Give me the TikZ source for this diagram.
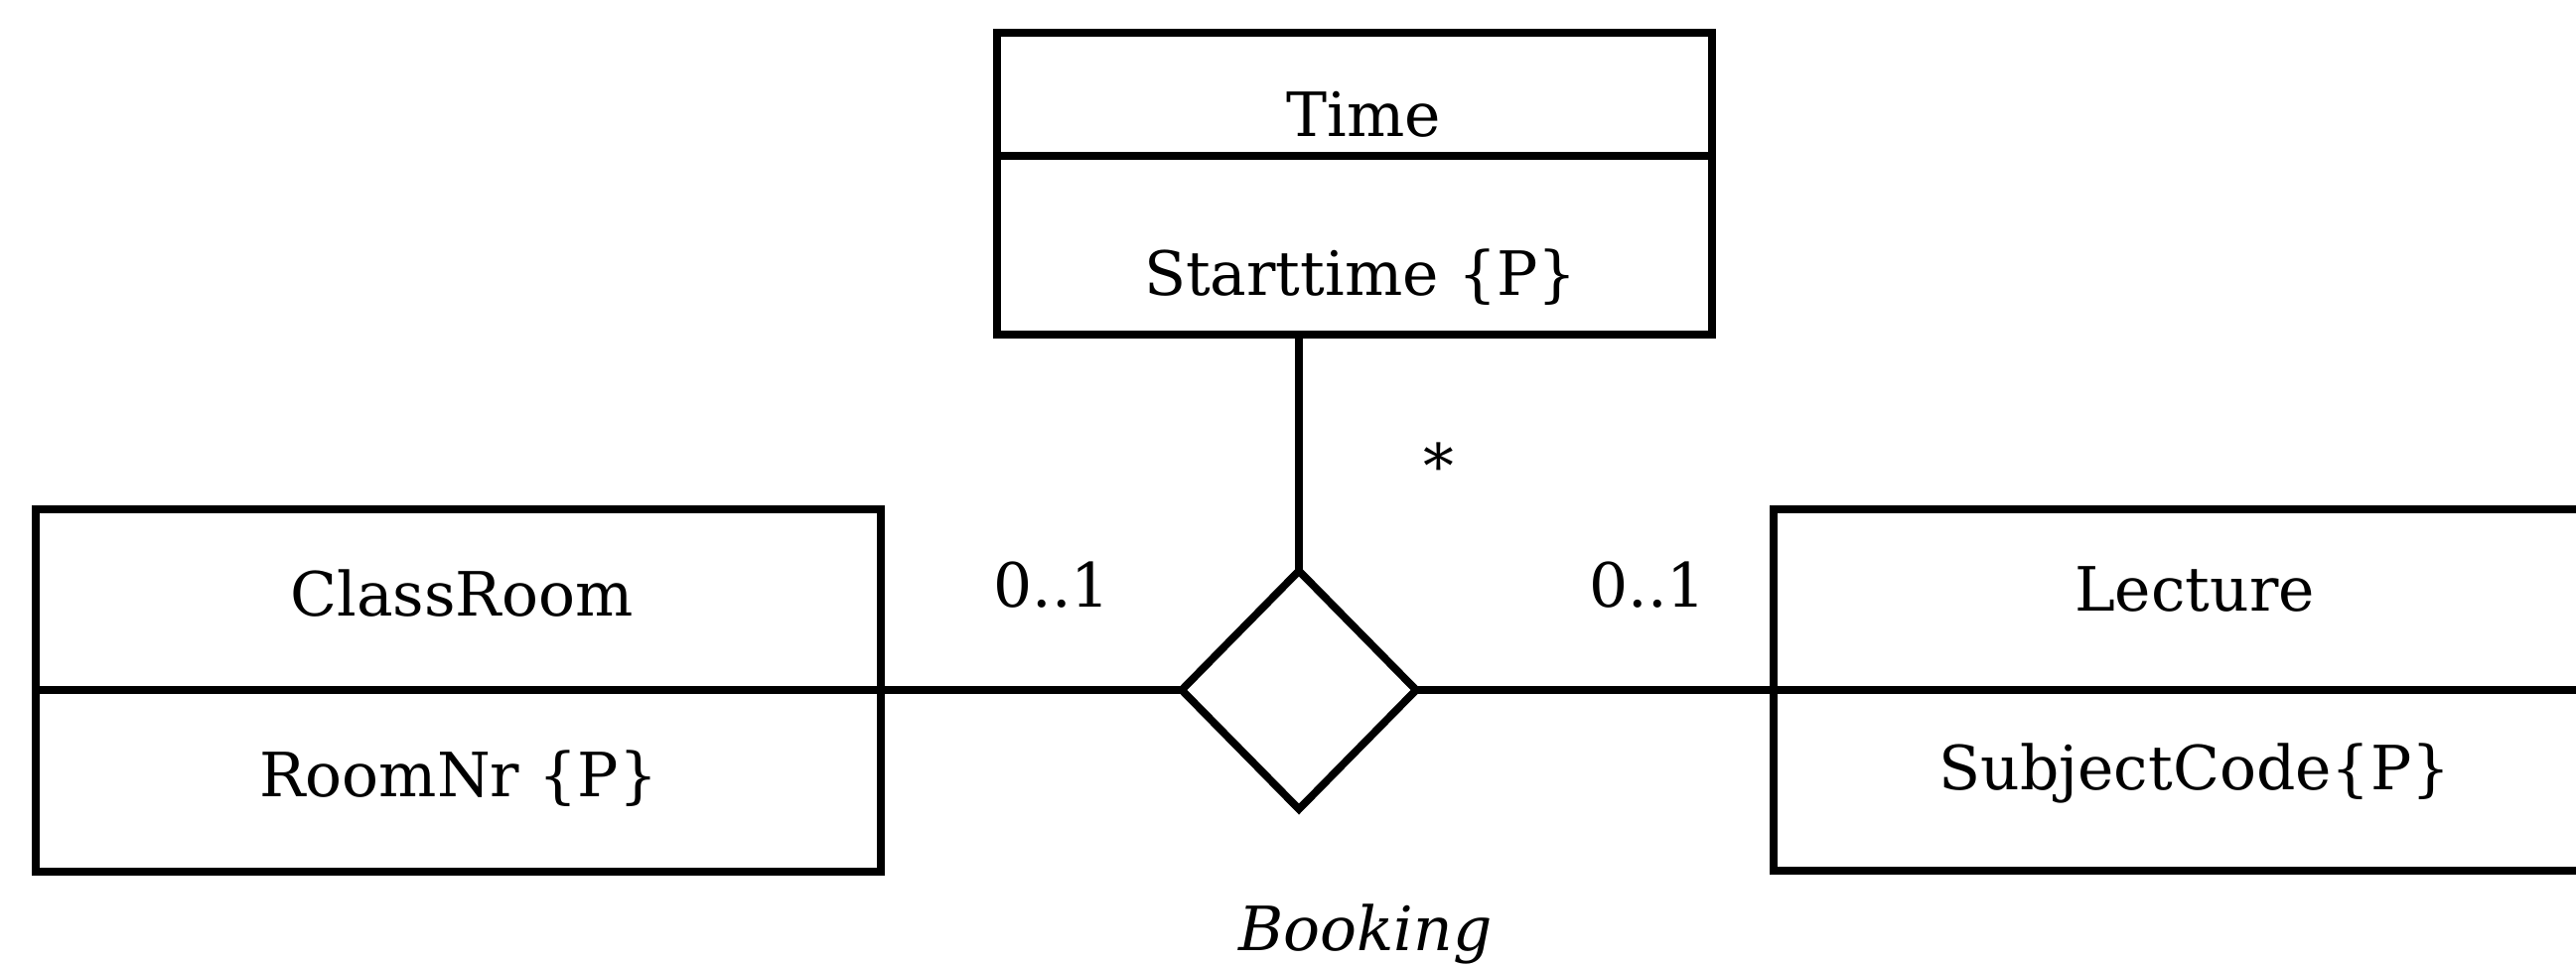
\documentclass[tikz,border=0pt]{standalone}
\usepackage{fontspec}
\setmainfont{DejaVu Serif}
\usetikzlibrary{shapes.geometric}
\tikzset{font=\fontsize{17.5}{21}\selectfont}
\tikzstyle{compart}=[rectangle,draw,line width=2.2pt,inner sep=0pt,outer sep=0pt]
\tikzstyle{relship}=[diamond,draw,line width=2.2pt,inner sep=0pt,outer sep=0pt,minimum width=2.36cm,minimum height=2.4cm]
\tikzstyle{lbl}=[anchor=base,inner sep=0pt]

\begin{document}
\begin{tikzpicture}
\useasboundingbox (0,0) rectangle (25.94,9.72);
\clip (0,0) rectangle (25.94,9.72);
% class boxes
\node[compart,minimum width=7.20cm,minimum height=1.24cm] (timehead) at (13.64,8.77) {};
\node[compart,minimum width=7.20cm,minimum height=1.80cm] (timeattr) at (13.64,7.25) {};
\node[compart,minimum width=8.51cm,minimum height=1.82cm] (roomhead) at (4.615,3.68) {};
\node[compart,minimum width=8.51cm,minimum height=1.83cm] (roomattr) at (4.615,1.855) {};
\node[compart,minimum width=8.48cm,minimum height=1.82cm] (lecthead) at (22.10,3.68) {};
\node[compart,minimum width=8.48cm,minimum height=1.82cm] (lectattr) at (22.10,1.86) {};
\node[relship] (booking) at (13.08,2.77) {};
% texts
\node[lbl] (timename) at (13.73,8.34) {Time};
\node[lbl] (timekey) at (13.70,6.74) {Starttime \{P\}};
\node[lbl] (roomname) at (4.65,3.52) {ClassRoom};
\node[lbl] (roomkey) at (4.62,1.70) {RoomNr \{P\}};
\node[lbl] (lectname) at (22.10,3.57) {Lecture};
\node[lbl] (lectkey) at (22.10,1.77) {SubjectCode\{P\}};
\node[lbl] (roomcard) at (10.59,3.60) {0..1};
\node[lbl] (lectcard) at (16.59,3.61) {0..1};
\node[lbl] (timecard) at (14.49,4.81) {*};
\node[lbl] (bookname) at (13.75,0.15) {\itshape Booking};
\path[line width=2pt]
(booking.west) edge (booking.west -| roomhead.east)
(booking.east) edge (booking.east -| lecthead.west)
(booking.north) edge (booking.north |- timeattr.south);
\end{tikzpicture}
\end{document}
